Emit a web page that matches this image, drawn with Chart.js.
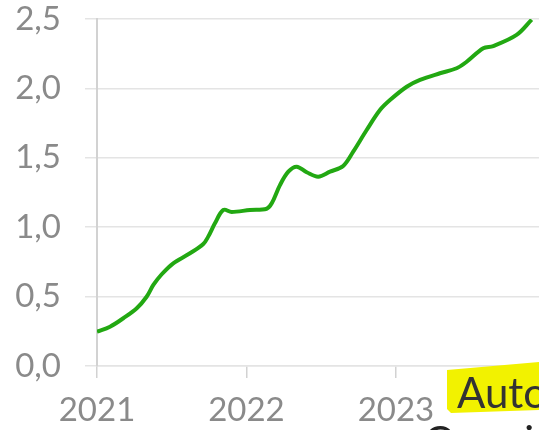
<!DOCTYPE html>
<html>
<head>
<meta charset="utf-8">
<script src="https://cdn.jsdelivr.net/npm/chart.js@4/dist/chart.umd.min.js"></script>
<style>
  html, body { margin: 0; padding: 0; background: #fff; }
  #wrap { position: relative; width: 539px; height: 430px; overflow: hidden; }
  #chart { position: absolute; left: 0; top: 0; }
  .mark {
    position: absolute; left: 447px; top: 362px; width: 92px; height: 51px;
    background: #f2f200;
    clip-path: polygon(0 8px, 100% 0, 100% 48px, 4px 51px, 0 47px);
  }
  .tag {
    position: absolute; left: 457px; top: 367px;
    font: 42px Lato, sans-serif; color: #333; white-space: nowrap;
  }
  .sub {
    position: absolute; left: 424px; top: 415px;
    font: 41px Lato, sans-serif; color: #222; white-space: nowrap;
  }
</style>
</head>
<body>
<div id="wrap">
  <canvas id="chart" width="539" height="430"></canvas>
  <div class="mark"></div>
  <div class="tag">Auto</div>
  <div class="sub">Crescita</div>
</div>
<script>
// decimal year positions and values of the series
const years = [
  2021.000, 2021.087, 2021.176, 2021.266, 2021.332, 2021.377, 2021.433, 2021.510,
  2021.622, 2021.711, 2021.744, 2021.789, 2021.845, 2021.901, 2022.023, 2022.135,
  2022.169, 2022.224, 2022.280, 2022.336, 2022.403, 2022.480, 2022.559, 2022.647,
  2022.714, 2022.804, 2022.893, 2022.960, 2023.072, 2023.161, 2023.294, 2023.406,
  2023.473, 2023.584, 2023.651, 2023.807, 2023.908
];
const values = [
  0.247, 0.283, 0.344, 0.416, 0.499, 0.584, 0.661, 0.740,
  0.812, 0.879, 0.932, 1.028, 1.124, 1.110, 1.124, 1.133,
  1.172, 1.303, 1.400, 1.436, 1.396, 1.364, 1.400, 1.441,
  1.544, 1.700, 1.844, 1.916, 2.012, 2.061, 2.109, 2.145,
  2.192, 2.289, 2.305, 2.385, 2.495
];
const xTicks = [2021, 2022, 2023];
const yTicks = [0, 0.5, 1, 1.5, 2, 2.5];

const GRID = '#e4e4e4';
const AXIS = '#d2d2d2';
const LABEL = '#8a8a8a';
const labelFont = { family: 'Lato, sans-serif', size: 33 };

new Chart(document.getElementById('chart'), {
  type: 'line',
  data: {
    datasets: [{
      data: years.map((x, i) => ({ x, y: values[i] })),
      borderColor: '#22a812',
      borderWidth: 4,
      pointRadius: 0,
      tension: 0.35,
      fill: false
    }]
  },
  options: {
    responsive: false,
    animation: false,
    layout: { padding: 0 },
    plugins: { legend: { display: false }, tooltip: { enabled: false } },
    scales: {
      x: {
        type: 'linear',
        min: 2021,
        max: 2023.957,
        afterBuildTicks: s => { s.ticks = xTicks.map(v => ({ value: v })); },
        afterFit: s => { s.height = 64; s.paddingLeft = 0; s.paddingRight = 0; },
        ticks: {
          color: LABEL, font: labelFont, padding: 13, maxRotation: 0,
          callback: v => String(v)
        },
        grid: { drawOnChartArea: false, color: AXIS, lineWidth: 1.5, tickLength: 12 },
        border: { color: GRID, width: 1.5 }
      },
      y: {
        min: 0,
        max: 2.5,
        afterBuildTicks: s => { s.ticks = yTicks.map(v => ({ value: v })); },
        afterFit: s => { s.width = 97; s.paddingTop = 19; s.paddingBottom = 0; },
        ticks: {
          color: LABEL, font: labelFont, padding: 24,
          callback: v => v.toFixed(1).replace('.', ',')
        },
        grid: { color: GRID, lineWidth: 1.5, tickLength: 12 },
        border: { color: AXIS, width: 2 }
      }
    }
  }
});
</script>
</body>
</html>
